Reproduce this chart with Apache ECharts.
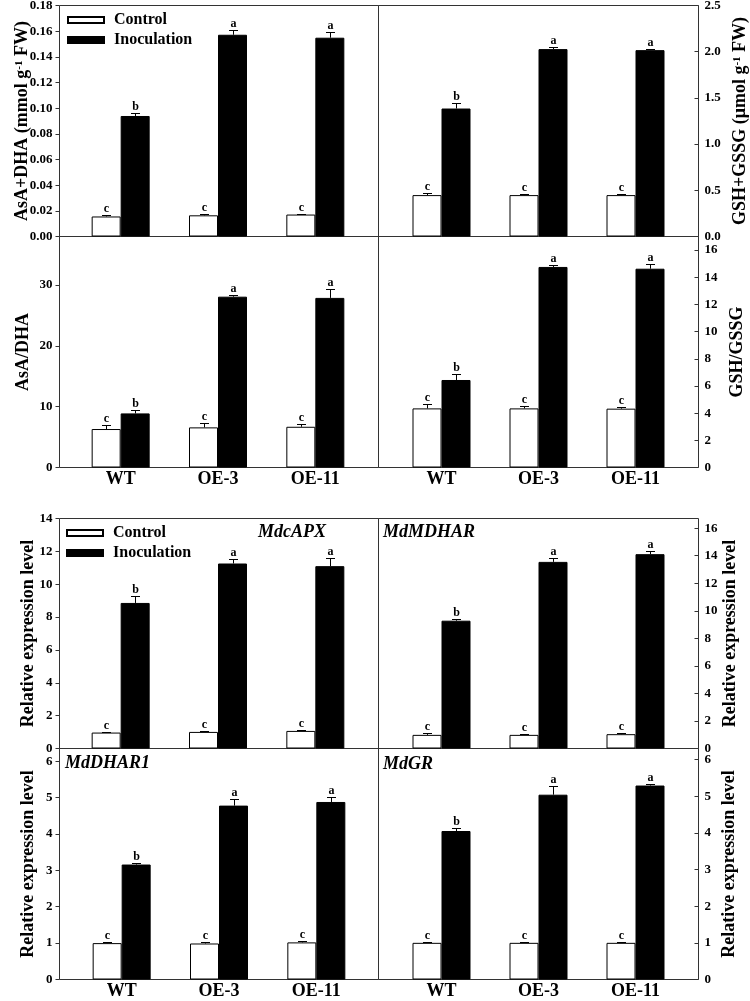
<!DOCTYPE html>
<html><head><meta charset="utf-8">
<script src="https://cdn.jsdelivr.net/npm/echarts@6/dist/echarts.min.js"></script>
<style>html,body{margin:0;padding:0;background:#fff}#c{width:750px;height:1001px}</style>
</head><body><div id="c"></div>
<script>
// ---------- data ----------
const categories = ['WT', 'OE-3', 'OE-11'];
const ctrlLetters = ['c', 'c', 'c'];
const inocLetters = ['b', 'a', 'a'];

const asaDhaCtrl = [0.0156, 0.0165, 0.0171];
const asaDhaCtrlErr = [0.0010, 0.0010, 0.0006];
const asaDhaInoc = [0.0939, 0.1572, 0.1549];
const asaDhaInocErr = [0.0020, 0.0037, 0.0044];

const gshSumCtrl = [0.448, 0.448, 0.448];
const gshSumCtrlErr = [0.020, 0.010, 0.012];
const gshSumInoc = [1.385, 2.028, 2.017];
const gshSumInocErr = [0.065, 0.025, 0.015];

const asaRatioCtrl = [6.33, 6.6, 6.7];
const asaRatioCtrlErr = [0.6, 0.7, 0.5];
const asaRatioInoc = [8.9, 28.1, 27.9];
const asaRatioInocErr = [0.55, 0.27, 1.4];

const gshRatioCtrl = [4.35, 4.35, 4.33];
const gshRatioCtrlErr = [0.3, 0.2, 0.15];
const gshRatioInoc = [6.44, 14.76, 14.63];
const gshRatioInocErr = [0.42, 0.12, 0.32];

const apxCtrl = [0.97, 1.01, 1.07];
const apxCtrlErr = [0.04, 0.03, 0.03];
const apxInoc = [8.86, 11.26, 11.10];
const apxInocErr = [0.45, 0.28, 0.49];

const mdharCtrl = [0.99, 0.99, 1.04];
const mdharCtrlErr = [0.15, 0.08, 0.05];
const mdharInoc = [9.28, 13.55, 14.11];
const mdharInocErr = [0.10, 0.27, 0.24];

const dharCtrl = [1.00, 0.99, 1.02];
const dharCtrlErr = [0.04, 0.05, 0.03];
const dharInoc = [3.16, 4.78, 4.88];
const dharInocErr = [0.04, 0.18, 0.15];

const grCtrl = [1.00, 1.00, 1.00];
const grCtrlErr = [0.01, 0.01, 0.01];
const grInoc = [4.05, 5.04, 5.29];
const grInocErr = [0.07, 0.23, 0.03];

// ---------- layout / style ----------
const FONT = '"Liberation Serif", "Times New Roman", Times, serif';
const LINE = '#333';
const BAR_W = 29;

const panels = [
  {frame: [59.5, 5.5, 319, 231], barLeft: 72, barW: 292, side: 'left', max: 0.18, interval: 0.02, dec: 2, hideMax: false,
   name: 'AsA+DHA (mmol g{sup|-1} FW)', nameGap: 28, showX: false,
   ctrl: asaDhaCtrl, ctrlErr: asaDhaCtrlErr, inoc: asaDhaInoc, inocErr: asaDhaInocErr},
  {frame: [378.5, 5.5, 320, 231], barLeft: 393, barW: 291, side: 'right', max: 2.5, interval: 0.5, dec: 1, hideMax: false,
   name: 'GSH+GSSG (\u03bcmol g{sup|-1} FW)', nameGap: 33, showX: false,
   ctrl: gshSumCtrl, ctrlErr: gshSumCtrlErr, inoc: gshSumInoc, inocErr: gshSumInocErr},
  {frame: [59.5, 236.5, 319, 231], barLeft: 72, barW: 292, side: 'left', max: 38, interval: 10, dec: 0, hideMax: true,
   name: 'AsA/DHA', nameGap: 27, showX: true,
   ctrl: asaRatioCtrl, ctrlErr: asaRatioCtrlErr, inoc: asaRatioInoc, inocErr: asaRatioInocErr},
  {frame: [378.5, 236.5, 320, 231], barLeft: 393, barW: 291, side: 'right', max: 17, interval: 2, dec: 0, hideMax: true,
   name: 'GSH/GSSG', nameGap: 30, showX: true,
   ctrl: gshRatioCtrl, ctrlErr: gshRatioCtrlErr, inoc: gshRatioInoc, inocErr: gshRatioInocErr},
  {frame: [59.5, 518.5, 319, 230], barLeft: 72, barW: 292, side: 'left', max: 14, interval: 2, dec: 0, hideMax: false,
   name: 'Relative expression level', nameGap: 22, showX: false,
   ctrl: apxCtrl, ctrlErr: apxCtrlErr, inoc: apxInoc, inocErr: apxInocErr},
  {frame: [378.5, 518.5, 320, 230], barLeft: 393, barW: 291, side: 'right', max: 16.7, interval: 2, dec: 0, hideMax: true,
   name: 'Relative expression level', nameGap: 23, showX: false,
   ctrl: mdharCtrl, ctrlErr: mdharCtrlErr, inoc: mdharInoc, inocErr: mdharInocErr},
  {frame: [59.5, 748.5, 319, 231], barLeft: 73, barW: 292, side: 'left', max: 6.35, interval: 1, dec: 0, hideMax: true,
   name: 'Relative expression level', nameGap: 22, showX: true,
   ctrl: dharCtrl, ctrlErr: dharCtrlErr, inoc: dharInoc, inocErr: dharInocErr},
  {frame: [378.5, 748.5, 320, 231], barLeft: 393, barW: 291, side: 'right', max: 6.3, interval: 1, dec: 0, hideMax: true,
   name: 'Relative expression level', nameGap: 22, showX: true,
   ctrl: grCtrl, ctrlErr: grCtrlErr, inoc: grInoc, inocErr: grInocErr}
];

function errRender(letters, offset) {
  return function (params, api) {
    const i = api.value(0), v = api.value(1), e = api.value(2);
    const p0 = api.coord([i, v]);
    const p1 = api.coord([i, v + e]);
    const x = Math.round(p0[0] + offset) + 0.5;
    const yt = Math.round(p1[1]) + 0.5;
    return {type: 'group', children: [
      {type: 'line', shape: {x1: x, y1: p0[1], x2: x, y2: yt}, style: {stroke: '#000', lineWidth: 1}},
      {type: 'line', shape: {x1: x - 4.5, y1: yt, x2: x + 4.5, y2: yt}, style: {stroke: '#000', lineWidth: 1}},
      {type: 'text', x: x, y: yt - 1, style: {text: letters[params.dataIndex], align: 'center', verticalAlign: 'bottom',
        fontSize: 12, fontWeight: 'bold', fontFamily: FONT, fill: '#000'}}
    ]};
  };
}

const grid = [], xAxis = [], yAxis = [], series = [];
panels.forEach((p, k) => {
  const [L, T, W, H] = p.frame;
  grid.push({left: L, top: T, width: W, height: H, show: true, borderColor: LINE, borderWidth: 1,
             backgroundColor: 'transparent', containLabel: false, outerBoundsMode: 'none'});
  grid.push({left: p.barLeft, top: T, width: p.barW, height: H, show: false, containLabel: false, outerBoundsMode: 'none'});
  xAxis.push({gridIndex: 2 * k, type: 'value', min: 0, max: 1, show: false});
  xAxis.push({gridIndex: 2 * k + 1, type: 'category', data: categories, boundaryGap: true,
    axisLine: {show: false}, axisTick: {show: false}, splitLine: {show: false},
    axisLabel: {show: p.showX, margin: 3, fontSize: 18, fontWeight: 'bold', fontFamily: FONT, color: '#000'}});
  yAxis.push({gridIndex: 2 * k, type: 'value', position: p.side, min: 0, max: p.max, interval: p.interval,
    axisLine: {show: false, onZero: false}, splitLine: {show: false},
    axisTick: {show: true, length: 4, inside: p.side === 'right', lineStyle: {color: LINE, width: 1}},
    axisLabel: {show: true, margin: p.side === 'left' ? 7 : 6, fontSize: 13, fontWeight: 'bold', fontFamily: FONT, color: '#000',
      showMaxLabel: !p.hideMax, showMinLabel: true, formatter: v => v.toFixed(p.dec)},
    name: p.name, nameLocation: 'middle', nameGap: p.nameGap, nameMoveOverlap: false,
    nameTextStyle: {fontSize: 18, fontWeight: 'bold', fontFamily: FONT, color: '#000',
      rich: {sup: {fontSize: 11, fontWeight: 'bold', fontFamily: FONT, color: '#000', verticalAlign: 'top', lineHeight: 11, padding: [0, 0, 10, 0]}}}});
  yAxis.push({gridIndex: 2 * k + 1, type: 'value', min: 0, max: p.max, show: false});
  const xi = 2 * k + 1, yi = 2 * k + 1;
  series.push({name: 'Control', type: 'bar', xAxisIndex: xi, yAxisIndex: yi, data: p.ctrl, barWidth: BAR_W, barGap: '0%',
    itemStyle: {color: '#fff', borderColor: '#000', borderWidth: 1}, emphasis: {disabled: true}, animation: false});
  series.push({name: 'Inoculation', type: 'bar', xAxisIndex: xi, yAxisIndex: yi, data: p.inoc, barWidth: BAR_W, barGap: '0%',
    itemStyle: {color: '#000', borderColor: '#000', borderWidth: 1}, emphasis: {disabled: true}, animation: false});
  series.push({type: 'custom', xAxisIndex: xi, yAxisIndex: yi, renderItem: errRender(ctrlLetters, -BAR_W / 2),
    data: p.ctrl.map((v, i) => [i, v, p.ctrlErr[i]]), encode: {x: 0, y: 1}, z: 5, animation: false, silent: true});
  series.push({type: 'custom', xAxisIndex: xi, yAxisIndex: yi, renderItem: errRender(inocLetters, BAR_W / 2),
    data: p.inoc.map((v, i) => [i, v, p.inocErr[i]]), encode: {x: 0, y: 1}, z: 5, animation: false, silent: true});
});

const legendBase = {data: ['Control', 'Inoculation'], orient: 'vertical', icon: 'rect', itemWidth: 36, itemHeight: 6,
  itemGap: 4, padding: 0, selectedMode: false,
  textStyle: {fontSize: 16, fontWeight: 'bold', fontFamily: FONT, color: '#000', lineHeight: 16, padding: [0, 0, 0, 5]}};

const geneStyle = {fontSize: 18, fontWeight: 'bold', fontStyle: 'italic', fontFamily: FONT, fill: '#000'};

const option = {
  animation: false,
  backgroundColor: '#fff',
  grid, xAxis, yAxis, series,
  legend: [
    Object.assign({}, legendBase, {left: 67, top: 12}),
    Object.assign({}, legendBase, {left: 66, top: 525})
  ],
  graphic: [
    {type: 'text', left: 258, top: 523, style: Object.assign({text: 'MdcAPX'}, geneStyle)},
    {type: 'text', left: 383, top: 523, style: Object.assign({text: 'MdMDHAR'}, geneStyle)},
    {type: 'text', left: 65, top: 754, style: Object.assign({text: 'MdDHAR1'}, geneStyle)},
    {type: 'text', left: 383, top: 755, style: Object.assign({text: 'MdGR'}, geneStyle)}
  ]
};

const chart = echarts.init(document.getElementById('c'), null, {renderer: 'canvas'});
chart.setOption(option);
</script>
</body></html>
